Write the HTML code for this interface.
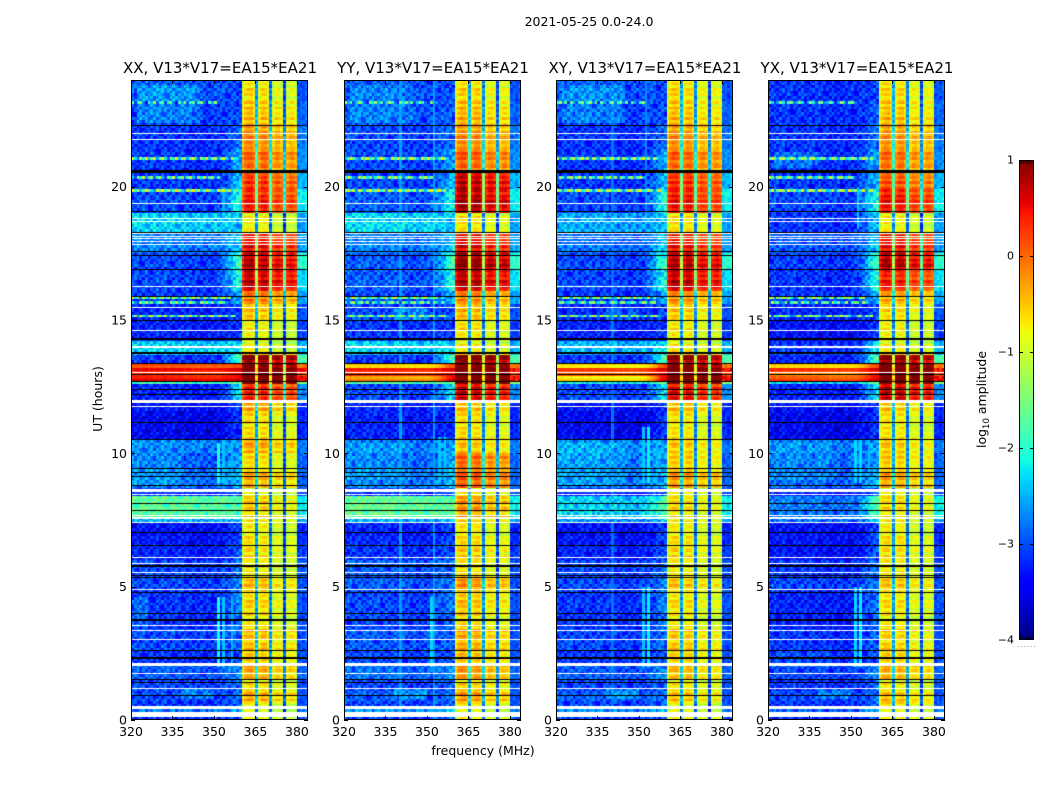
<!DOCTYPE html>
<html lang="en">
<head>
<meta charset="utf-8">
<title>2021-05-25 0.0-24.0</title>
<style>
html,body{margin:0;padding:0;background:#fff;}
#stage{position:relative;width:1050px;height:800px;overflow:hidden;background:#fff;font-family:"DejaVu Sans","Liberation Sans",sans-serif;}
canvas{position:absolute;display:block;}
#overlay{position:absolute;left:0;top:0;}
text{font-family:"DejaVu Sans","Liberation Sans",sans-serif;fill:#000;}
</style>
</head>
<body>
<div id="stage">
<svg id="overlay" width="1050" height="800" viewBox="0 0 1050 800" xmlns="http://www.w3.org/2000/svg">
  <text x="589" y="26" font-size="12.5" text-anchor="middle">2021-05-25 0.0-24.0</text>
  <text x="483" y="755" font-size="12.5" text-anchor="middle">frequency (MHz)</text>
  <text x="0" y="0" font-size="12.5" text-anchor="middle" transform="translate(102,399) rotate(-90)">UT (hours)</text>
  <text x="0" y="0" font-size="12.5" text-anchor="middle" transform="translate(986,399.5) rotate(-90)">log<tspan font-size="8.5" dy="3">10</tspan><tspan dy="-3"> amplitude</tspan></text>
</svg>
</div>
<script>
/* ---------- shared chart data ---------- */
var panelTitles = ["XX, V13*V17=EA15*EA21", "YY, V13*V17=EA15*EA21", "XY, V13*V17=EA15*EA21", "YX, V13*V17=EA15*EA21"];
var xTickValues = [320, 335, 350, 365, 380];
var yTickValues = [0, 5, 10, 15, 20];
var colorbarTickValues = [1, 0, -1, -2, -3, -4];

/* UT edges (hours) of the horizontal bands */
var utEdges = [0,.3,.49,.75,1.13,1.5,2.06,2.63,3.38,4.05,4.88,5.44,6,6.56,7.43,7.61,8.36,8.74,9.38,10,10.5,11.63,12.04,12.56,12.71,12.94,13.05,13.24,13.39,13.69,13.76,14.25,15,15.56,16.13,16.88,17.55,18.3,19.05,19.88,20.55,21.38,22.31,23.25,24];

/* log10 amplitude of the 320-355 MHz background per band */
var xxBackground = [-3.2,-2.8,-3.2,-3.1,-3.1,-3.0,-3.2,-3.1,-3.2,-3.2,-3.1,-3.1,-3.3,-3.4,-2.6,-1.75,-3.2,-2.85,-2.95,-2.75,-3.5,-3.4,-3.3,-1.9,.45,.1,.45,.1,-3.2,-2.5,-2.4,-3.3,-3.3,-3.2,-3.1,-3.1,-2.8,-2.4,-3.1,-3.2,-3.2,-3.2,-3.1,-3.0];
var yyBackground = [-3.2,-2.7,-3.1,-3.0,-3.1,-2.9,-3.1,-3.0,-3.1,-3.1,-3.0,-3.0,-3.2,-3.3,-2.6,-1.7,-3.2,-2.8,-2.9,-2.8,-3.3,-3.3,-3.1,-1.8,-.3,.1,.35,-.6,-3.2,-2.5,-2.35,-3.2,-3.1,-3.1,-3.0,-3.0,-2.8,-2.35,-3.0,-3.1,-3.1,-3.1,-3.0,-3.0];
var xyBackground = [-3.2,-2.7,-3.1,-3.0,-3.1,-3.0,-3.2,-3.1,-3.2,-3.2,-3.1,-3.1,-3.3,-3.4,-2.7,-2.4,-3.3,-2.8,-2.8,-2.7,-3.5,-3.4,-3.1,-2.2,-.7,-.1,.2,-.7,-3.2,-2.6,-2.55,-3.3,-3.3,-3.2,-3.1,-3.1,-2.9,-2.6,-3.1,-3.2,-3.2,-3.2,-3.1,-3.0];
var yxBackground = [-3.3,-3.0,-3.2,-3.1,-3.2,-3.1,-3.2,-3.2,-3.3,-3.3,-3.1,-3.2,-3.4,-3.4,-2.9,-2.85,-3.3,-2.9,-2.9,-2.8,-3.5,-3.4,-3.3,-2.4,.1,-.4,.25,-.6,-3.3,-3.0,-3.2,-3.4,-3.3,-3.2,-3.2,-3.15,-3.0,-3.2,-3.1,-3.2,-3.2,-3.2,-3.2,-3.2];

/* log10 amplitude of the 360-380 MHz band per band */
var xxBand = [-.8,-.8,-.6,-.3,-.6,-.3,-.47,-.42,-.57,-.57,-.42,-.67,-.57,-.67,-.72,-.5,-.8,-.35,-.6,-.25,-.57,-.3,.45,1.2,1.4,1.4,1.4,1.2,1.1,-.3,-.8,-.72,-.5,-.05,.75,.8,.55,-.72,.45,.3,.05,-.15,-.42,-.62];
var yyBand = [-.72,-.72,-.5,-.2,-.5,-.2,-.42,-.32,-.5,-.45,-.2,-.62,-.47,-.62,-.62,-.2,-.6,.1,.05,-.42,-.57,-.42,.7,1.4,1.4,1.4,1.4,1.3,1.2,-.3,-.75,-.62,-.42,-.1,.8,1.0,.6,-.62,.85,.75,.1,-.15,-.37,-.57];
var xyBand = [-.72,-.72,-.67,-.42,-.62,-.42,-.52,-.47,-.62,-.62,-.47,-.67,-.57,-.67,-.72,-.57,-.72,-.25,-.52,-.45,-.62,-.42,.6,1.3,1.4,1.4,1.4,1.2,1.05,-.3,-.72,-.67,-.52,-.15,.75,.8,.5,-.62,.5,.35,.05,-.2,-.42,-.57];
var yxBand = [-.72,-.72,-.45,-.42,-.67,-.37,-.52,-.52,-.62,-.62,-.47,-.67,-.57,-.67,-.72,-.57,-.72,-.3,-.52,-.45,-.62,-.47,.75,1.3,1.4,1.4,1.4,1.3,1.05,-.3,-.77,-.72,-.62,-.27,.45,.8,.5,-.72,.5,.15,0,-.2,-.42,-.57];

/* 355-360 MHz shoulder and 380-384 MHz tail per band */
var transitionLevels = [-3.0,-2.5,-2.9,-2.9,-2.9,-2.7,-3.0,-2.9,-2.9,-2.8,-2.8,-2.9,-3.0,-3.1,-2.5,-1.8,-3.0,-2.5,-2.6,-2.6,-3.2,-3.2,-2.3,-1.6,.6,.3,.6,.2,-1.8,-2.3,-2.3,-3.2,-3.1,-2.6,-2.1,-1.9,-2.4,-2.5,-2.1,-2.5,-2.6,-2.9,-3.0,-3.1];
var tailLevels = [-3.0,-2.8,-3.0,-3.0,-3.0,-2.9,-3.0,-3.0,-3.0,-3.0,-3.0,-3.0,-3.1,-3.2,-2.6,-2.2,-3.0,-2.9,-2.9,-2.8,-3.2,-3.2,-2.7,-1.5,.5,.1,.45,-.1,-1.8,-2.3,-2.5,-3.1,-3.0,-2.6,-2.3,-2.0,-2.6,-2.6,-2.2,-2.5,-2.7,-2.8,-2.9,-3.0];

/* per-channel shape (64 channels, 320-383 MHz) */
var channelBackgroundOffset = [.03,.05,.08,.02,.06,.08,0,.06,.03,.07,0,.05,.07,0,.04,.06,0,.04,.03,-.02,.02,0,-.05,0,-.06,0,-.04,-.06,-.02,-.05,0,-.03,-.02,.02,0,.04,.02,.03,.05,.06,0,0,0,0,0,0,0,0,0,0,0,0,0,0,0,0,0,0,0,0,-.05,.05,-.05,.08];
var channelTransitionWeight = [0,0,0,0,0,0,0,0,0,0,0,0,0,0,0,0,0,0,0,0,0,0,0,0,0,0,0,0,0,0,0,.05,.1,.18,.28,.42,.6,.8,.95,1,1,0,0,0,0,0,0,0,0,0,0,0,0,0,0,0,0,0,0,0,0,0,0,0];
var channelBandOffset = [0,0,0,0,0,0,0,0,0,0,0,0,0,0,0,0,0,0,0,0,0,0,0,0,0,0,0,0,0,0,0,0,0,0,0,0,0,0,0,0,-.4,-.1,0,0,-.2,-2.0,-.25,-.05,-.05,-.25,-2.2,-.45,-.25,-.25,-.4,-2.5,-.45,-.28,-.28,-.45,0,0,0,0];
var bandChannels = [0,0,0,0,0,0,0,0,0,0,0,0,0,0,0,0,0,0,0,0,0,0,0,0,0,0,0,0,0,0,0,0,0,0,0,0,0,0,0,0,1,1,1,1,1,1,1,1,1,1,1,1,1,1,1,1,1,1,1,1,0,0,0,0];
/* row-to-row ripple and small speckle read as texture */
var rowRipple = [.06,-.1,.14,-.04,.1,-.14,.02,.12,-.08,.16,-.12,.04,-.06,.12,-.16,.08,.02,-.1,.1,-.02,.14,-.12,.06,-.06];
var speckleTile = [
  [.18,-.22,.05,.26,-.12,-.3,.14,-.06,.3,-.18,.08],
  [-.14,.24,-.28,.02,.2,.1,-.24,.28,-.04,.12,-.2],
  [.28,-.06,.16,-.2,-.02,.3,.06,-.16,-.26,.22,.02],
  [-.24,.1,.22,-.3,.14,-.1,.26,.04,.16,-.08,-.28],
  [.06,.3,-.12,.18,-.26,.2,-.04,-.22,.1,.26,-.14],
  [-.02,-.18,.28,.08,.24,-.16,.12,.22,-.3,.04,.18],
  [.2,.02,-.26,-.08,.3,.04,-.2,.16,.24,-.12,-.06]
];

/* flagged rows: [UT, thickness in hours] */
var whiteFlags = [[22.0,.05],[21.78,.05],[19.38,.05],[18.8,.05],[18.71,.05],[18.24,.05],[18.15,.05],[18.06,.05],[17.96,.05],[17.82,.05],[16.25,.05],[15.48,.05],[14.61,.05],[13.97,.09],[13.05,.04],[11.94,.13],[11.75,.05],[8.6,.13],[8.44,.05],[7.66,.05],[7.56,.09],[7.41,.05],[6.1,.05],[5.86,.05],[5.52,.05],[4.88,.05],[3.55,.05],[3.36,.05],[3.03,.05],[2.09,.12],[1.75,.05],[1.19,.05],[.48,.12],[.21,.17]];
var blackFlags = [[22.3,.05],[20.56,.11],[19.08,.05],[18.3,.05],[17.56,.05],[17.41,.05],[16.91,.05],[15.87,.05],[15.0,.05],[14.3,.09],[13.75,.09],[13.38,.05],[12.96,.05],[12.69,.05],[12.4,.05],[12.19,.05],[11.16,.05],[10.53,.05],[9.44,.05],[9.29,.05],[9.14,.05],[8.8,.05],[8.13,.05],[7.86,.05],[7.02,.05],[6.54,.05],[5.78,.08],[5.41,.05],[5.36,.05],[4.77,.05],[3.98,.05],[3.74,.08],[2.6,.05],[2.34,.05],[2.29,.05],[1.53,.05],[1.39,.05],[.93,.05]];

/* narrow-band interference rows: [UT, start MHz, end MHz, level] */
var rfiRows = [[23.2,320,352,-2.3],[21.05,320,358,-1.8],[20.35,320,352,-2.0],[19.85,320,358,-1.7],[19.6,320,358,-1.5],[17.5,320,358,-1.8],[17.3,320,358,-1.7],[16.8,320,358,-1.6],[15.85,320,356,-1.8],[15.7,320,356,-2.1],[15.15,320,358,-1.8]];

/* vertical interference: [MHz, UT start, UT end, level] */
var xxVerticals = [[351,2.0,4.6,-2.1],[353,2.0,4.6,-2.4],[356,2.0,4.6,-2.5],[351,8.9,10.4,-2.1],[353,8.9,10.4,-2.4],[356,8.9,10.4,-2.5],[353,18.4,20.0,-2.5]];
var yyVerticals = [[340,0,24,-2.6],[352,0,24,-2.6],[354,8.9,10.6,-2.4],[356,8.9,10.6,-2.4],[351,2.0,4.6,-2.3],[356,18.4,20,-2.4]];
var xyVerticals = [[351,2.0,5.0,-2.4],[353,2.0,5.0,-2.2],[351,8.9,11,-2.4],[353,8.9,11,-2.2],[356,8.9,10.5,-2.5],[340,0,24,-2.8],[352,18.4,24,-2.7]];
var yxVerticals = [[351,2.0,5.0,-2.3],[353,2.0,5.0,-2.2],[351,8.9,10.5,-2.3],[353,8.9,10.5,-2.3],[356,8.9,10.5,-2.5],[352,18.4,20,-2.4],[356,18.4,20,-2.5]];

/* brighter patches in the background: [UT start, UT end, MHz start, MHz end, added level] */
var xxPatches = [[22.4,23.8,322,345,.3],[.8,1.2,338,350,.35],[8.8,10,320,338,.15],[3.5,4.6,320,326,.25]];
var yyPatches = [[22.4,23.8,322,345,.2],[.8,1.2,338,350,.35],[9,10.4,320,345,.12],[15.0,15.5,338,350,.4]];
var xyPatches = [[22.4,23.8,322,345,.28],[.8,1.2,338,350,.35],[8.8,10.4,320,345,.15],[15.0,15.5,338,350,.35]];
var yxPatches = [[20.7,21.3,322,338,.3],[.8,1.2,338,350,.35],[9,10.4,320,345,.12],[2,2.6,320,345,.12]];

/* ---------- axis functions ---------- */
var panelLefts = [131, 344, 556, 768];
var panelTop = 80, panelWidth = 177, panelHeight = 640;
var cbLeft = 1019, cbTop = 160, cbWidth = 15, cbHeight = 480;
function xScale(mhz){ return (mhz - 320) * panelWidth / 64; }
function yScale(ut){ return panelHeight - ut * panelHeight / 24; }
function cbY(level){ return cbTop + (1 - level) * cbHeight / 5; }

function jet(level){
  var t = Math.max(0, Math.min(1, (level + 4) / 5));
  function ch(v){ return Math.round(255 * Math.max(0, Math.min(1, v))); }
  var r = t < .35 ? 0 : t < .66 ? (t - .35) / .31 : t < .89 ? 1 : 1 - (t - .89) / .11 * .5;
  var g = t < .125 ? 0 : t < .375 ? (t - .125) / .25 : t < .64 ? 1 : t < .91 ? 1 - (t - .64) / .27 : 0;
  var b = t < .11 ? .5 + t / .11 * .5 : t < .34 ? 1 : t < .65 ? 1 - (t - .34) / .31 : 0;
  return "rgb(" + ch(r) + "," + ch(g) + "," + ch(b) + ")";
}

function segmentAt(ut){
  for (var i = 0; i < utEdges.length - 1; i++) { if (ut < utEdges[i + 1]) return i; }
  return utEdges.length - 2;
}

var panelBackgrounds = [xxBackground, yyBackground, xyBackground, yxBackground];
var panelBands = [xxBand, yyBand, xyBand, yxBand];
var panelVerticals = [xxVerticals, yyVerticals, xyVerticals, yxVerticals];
var panelPatches = [xxPatches, yyPatches, xyPatches, yxPatches];
var panelKeys = ["xx", "yy", "xy", "yx"];
var svg = document.getElementById("overlay");
var stage = document.getElementById("stage");
var NS = "http://www.w3.org/2000/svg";

function cellLevel(p, s, r, c, ut){
  var mhz = 320 + c;
  var tile = speckleTile[(r + p * 2) % speckleTile.length];
  var sp = tile[(c + r * 3) % tile.length];
  var rip = rowRipple[r % rowRipple.length];
  var v;
  if (bandChannels[c]) {
    v = panelBands[p][s] + channelBandOffset[c] + rip * 1.4 + sp * .3;
  } else if (c >= 60) {
    v = tailLevels[s] + channelBackgroundOffset[c] + sp * .6;
  } else {
    var w = channelTransitionWeight[c];
    var bg = panelBackgrounds[p][s] + channelBackgroundOffset[c];
    v = bg * (1 - w) + transitionLevels[s] * w;
    var quiet = v < -1.2;
    v += (quiet ? sp * 1.2 : sp * .15) + rip * (quiet ? .2 : 1);
    panelPatches[p].forEach(function(q){
      if (ut >= q[0] && ut < q[1] && mhz >= q[2] && mhz < q[3]) v += q[4];
    });
    panelVerticals[p].forEach(function(q){
      if (Math.floor(q[0]) === mhz && ut >= q[1] && ut < q[2] && v < q[3]) v = q[3];
    });
    rfiRows.forEach(function(q){
      if (Math.abs(ut - q[0]) < .05 && mhz >= q[1] && mhz < q[2]) v = q[3] + sp * 3.5;
    });
  }
  return v;
}

/* ---------- draw panels ---------- */
panelTitles.forEach(function(title, p){
  var left = panelLefts[p];
  var cv = document.createElement("canvas");
  
  
  cv.width = panelWidth; cv.height = panelHeight;
  cv.style.left = left + "px"; cv.style.top = panelTop + "px";
  stage.insertBefore(cv, svg);
  var ctx = cv.getContext("2d");
  for (var r = 0; r < 240; r++) {
    var ut = (r + .5) * .1, s = segmentAt(ut);
    var y1 = Math.round(yScale(r * .1)), y0 = Math.round(yScale((r + 1) * .1));
    for (var c = 0; c < 64; c++) {
      var x0 = Math.round(xScale(320 + c)), x1 = Math.round(xScale(321 + c));
      ctx.fillStyle = jet(cellLevel(p, s, r, c, ut));
      ctx.fillRect(x0, y0, x1 - x0, y1 - y0);
    }
  }
  function drawFlags(list, color){
    ctx.fillStyle = color;
    list.forEach(function(f){
      var h = Math.max(1, Math.round(f[1] * panelHeight / 24));
      ctx.fillRect(0, Math.round(yScale(f[0]) - h / 2), panelWidth, h);
    });
  }
  drawFlags(whiteFlags, "#fff");
  drawFlags(blackFlags, "#000");

  var frame = document.createElementNS(NS, "rect");
  
  
  frame.setAttribute("x", left + .5); frame.setAttribute("y", panelTop + .5);
  frame.setAttribute("width", panelWidth - 1); frame.setAttribute("height", panelHeight - 1);
  frame.setAttribute("fill", "none"); frame.setAttribute("stroke", "#000");
  svg.appendChild(frame);

  var ttl = document.createElementNS(NS, "text");
  
  
  ttl.setAttribute("x", left + panelWidth / 2 + .5); ttl.setAttribute("y", 73);
  ttl.setAttribute("font-size", "15"); ttl.setAttribute("text-anchor", "middle");
  ttl.textContent = title;
  svg.appendChild(ttl);

  xTickValues.forEach(function(v){
    var x = Math.round(left + xScale(v)) + .5;
    [[panelTop + panelHeight, panelTop + panelHeight - 4], [panelTop, panelTop + 4]].forEach(function(t){
      var tick = document.createElementNS(NS, "line");
      
      
      tick.setAttribute("x1", x); tick.setAttribute("x2", x);
      tick.setAttribute("y1", t[0]); tick.setAttribute("y2", t[1]);
      tick.setAttribute("stroke", "#000");
      svg.appendChild(tick);
    });
    var lab = document.createElementNS(NS, "text");
    
    
    lab.setAttribute("x", left + xScale(v)); lab.setAttribute("y", 736);
    lab.setAttribute("font-size", "12.5"); lab.setAttribute("text-anchor", "middle");
    lab.textContent = v;
    svg.appendChild(lab);
  });

  yTickValues.forEach(function(v){
    var y = Math.round(panelTop + yScale(v)) + .5;
    [[left, left + 4], [left + panelWidth, left + panelWidth - 4]].forEach(function(t){
      var tick = document.createElementNS(NS, "line");
      
      
      tick.setAttribute("x1", t[0]); tick.setAttribute("x2", t[1]);
      tick.setAttribute("y1", y); tick.setAttribute("y2", y);
      tick.setAttribute("stroke", "#000");
      svg.appendChild(tick);
    });
    var lab = document.createElementNS(NS, "text");
    
    
    lab.setAttribute("x", left - 4); lab.setAttribute("y", panelTop + yScale(v) + 4.5);
    lab.setAttribute("font-size", "12.5"); lab.setAttribute("text-anchor", "end");
    lab.textContent = v;
    svg.appendChild(lab);
  });
});

/* ---------- colorbar ---------- */
var cb = document.createElement("canvas");


cb.width = cbWidth; cb.height = cbHeight;
cb.style.left = cbLeft + "px"; cb.style.top = cbTop + "px";
stage.insertBefore(cb, svg);
var cbCtx = cb.getContext("2d");
for (var i = 0; i < cbHeight; i++) {
  cbCtx.fillStyle = jet(1 - (i + .5) * 5 / cbHeight);
  cbCtx.fillRect(0, i, cbWidth, 1);
}
var cbFrame = document.createElementNS(NS, "rect");


cbFrame.setAttribute("x", cbLeft + .5); cbFrame.setAttribute("y", cbTop + .5);
cbFrame.setAttribute("width", cbWidth - 1); cbFrame.setAttribute("height", cbHeight - 1);
cbFrame.setAttribute("fill", "none"); cbFrame.setAttribute("stroke", "#000");
svg.appendChild(cbFrame);

colorbarTickValues.forEach(function(v){
  var y = Math.min(cbTop + cbHeight - .5, Math.round(cbY(v)) + .5);
  [[cbLeft, cbLeft + 4], [cbLeft + cbWidth, cbLeft + cbWidth - 4]].forEach(function(t){
    var tick = document.createElementNS(NS, "line");
    
    
    tick.setAttribute("x1", t[0]); tick.setAttribute("x2", t[1]);
    tick.setAttribute("y1", y); tick.setAttribute("y2", y);
    tick.setAttribute("stroke", "#000");
    svg.appendChild(tick);
  });
  var lab = document.createElementNS(NS, "text");
  
  
  lab.setAttribute("x", cbLeft - 5); lab.setAttribute("y", cbY(v) + 3.5);
  lab.setAttribute("font-size", "11"); lab.setAttribute("text-anchor", "end");
  lab.textContent = v < 0 ? "\u2212" + Math.abs(v) : String(v);
  svg.appendChild(lab);
});

for (var k = 0; k < 6; k++) {
  var tx = cbLeft + 1.5 + k * 2.6;
  [[cbTop, cbTop + 4], [cbTop + cbHeight, cbTop + cbHeight - 4]].forEach(function(t){
    var tick = document.createElementNS(NS, "line");
    
    
    tick.setAttribute("x1", tx); tick.setAttribute("x2", tx);
    tick.setAttribute("y1", t[0]); tick.setAttribute("y2", t[1]);
    tick.setAttribute("stroke", "#000");
    tick.setAttribute("stroke-width", ".8");
    svg.appendChild(tick);
  });
  var dot = document.createElementNS(NS, "rect");
  
  
  dot.setAttribute("x", 1018 + k * 3.2); dot.setAttribute("y", 646);
  dot.setAttribute("width", 1); dot.setAttribute("height", 1);
  dot.setAttribute("fill", "#999");
  svg.appendChild(dot);
}
</script>
</body>
</html>
